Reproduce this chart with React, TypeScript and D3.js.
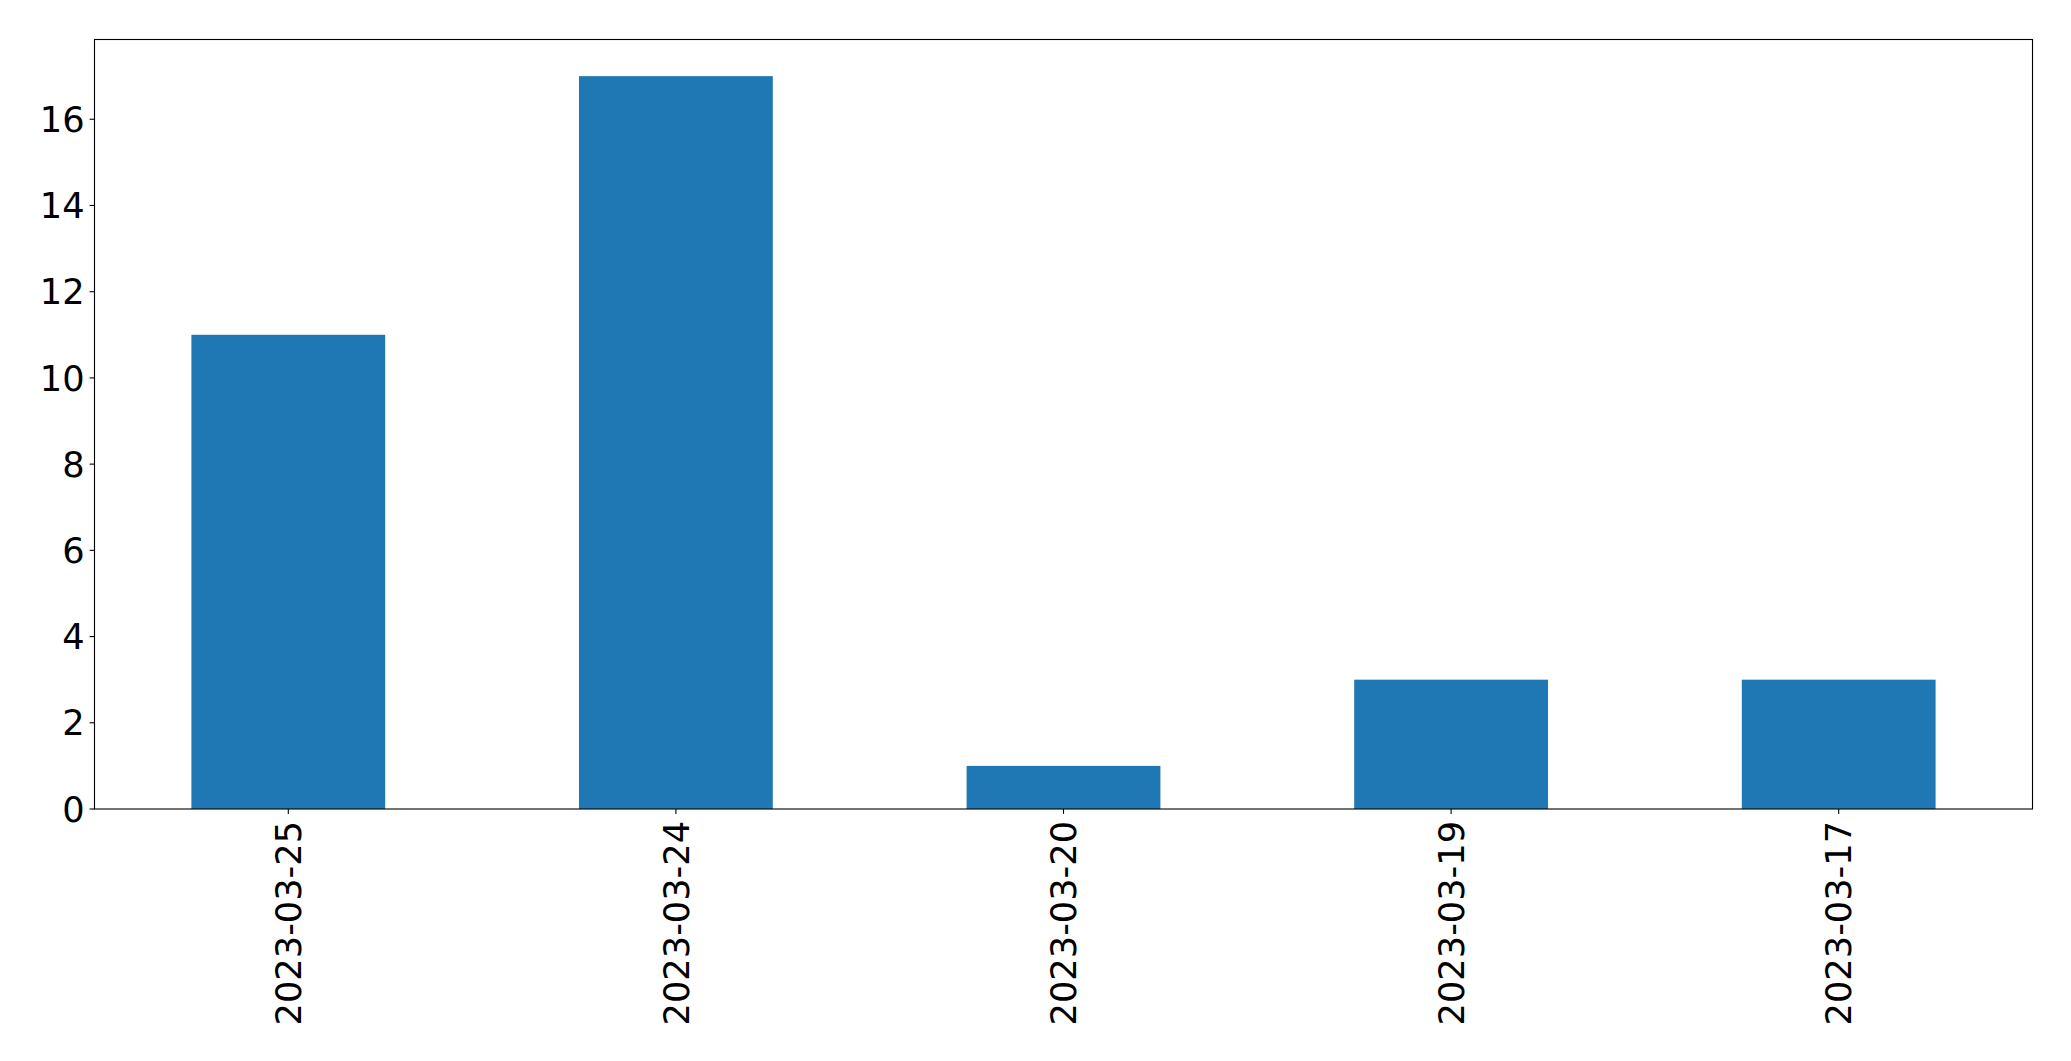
import React from "react";
import * as d3 from "d3";

const categories = ["2023-03-25", "2023-03-24", "2023-03-20", "2023-03-19", "2023-03-17"];
const values = [11, 17, 1, 3, 3];
const yTicks = [0, 2, 4, 6, 8, 10, 12, 14, 16];

const W = 2071;
const H = 1061;
const M = { left: 94.5, right: 2032.5, top: 39.5, bottom: 809 };
const FONT = "'DejaVu Sans', sans-serif";
const FS = 35.2;
const TICK = 4.9;

export default function App() {
  const x = d3
    .scaleLinear()
    .domain([-0.5, categories.length - 0.5])
    .range([M.left, M.right]);
  const yMax = d3.max(values)! * 1.05;
  const y = d3.scaleLinear().domain([0, yMax]).range([M.bottom, M.top]);
  const bw = x(0.25) - x(-0.25);

  return (
    <svg
      width={W}
      height={H}
      style={{ position: "absolute", left: 0, top: 0, background: "#fff" }}
    >
      <rect x={0} y={0} width={W} height={H} fill="#fff" />
      {values.map((v, i) => (
        <rect
          key={i}
          x={x(i) - bw / 2}
          y={y(v)}
          width={bw}
          height={y(0) - y(v)}
          fill="#1f77b4"
        />
      ))}
      <rect
        x={M.left}
        y={M.top}
        width={M.right - M.left}
        height={M.bottom - M.top}
        fill="none"
        stroke="#000"
        strokeWidth={1.1}
      />
      {yTicks.map((t) => (
        <g key={t}>
          <line
            x1={M.left - TICK}
            x2={M.left}
            y1={y(t)}
            y2={y(t)}
            stroke="#000"
            strokeWidth={1.1}
          />
          <text
            x={M.left - TICK - 5}
            y={y(t)}
            dy="0.36em"
            textAnchor="end"
            fontFamily={FONT}
            fontSize={FS}
            fill="#000"
          >
            {t}
          </text>
        </g>
      ))}
      {categories.map((c, i) => (
        <g key={c}>
          <line
            x1={x(i)}
            x2={x(i)}
            y1={M.bottom}
            y2={M.bottom + TICK}
            stroke="#000"
            strokeWidth={1.1}
          />
          <text
            transform={`translate(${x(i)},${M.bottom + TICK + 7}) rotate(-90)`}
            dy="0.36em"
            textAnchor="end"
            fontFamily={FONT}
            fontSize={FS}
            fill="#000"
          >
            {c}
          </text>
        </g>
      ))}
    </svg>
  );
}
